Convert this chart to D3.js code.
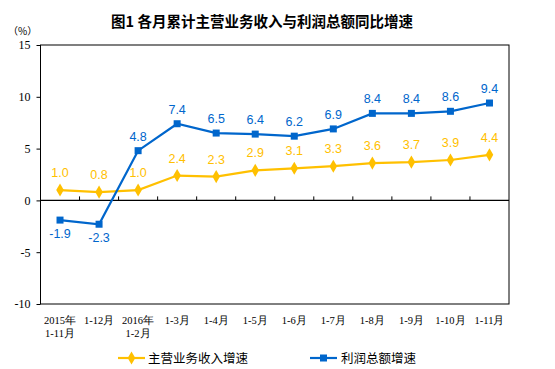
<!DOCTYPE html>
<html><head><meta charset="utf-8">
<script src="https://cdn.jsdelivr.net/npm/d3@7"></script>
<style>body{margin:0;background:#fff}svg{display:block}</style>
</head><body>
<script>
const categories = [["2015年","1-11月"],["1-12月"],["2016年","1-2月"],["1-3月"],["1-4月"],["1-5月"],["1-6月"],["1-7月"],["1-8月"],["1-9月"],["1-10月"],["1-11月"]];
const revenue = [1.0,0.8,1.0,2.4,2.3,2.9,3.1,3.3,3.6,3.7,3.9,4.4];
const profit = [-1.9,-2.3,4.8,7.4,6.5,6.4,6.2,6.9,8.4,8.4,8.6,9.4];
const yTicks = [15,10,5,0,-5,-10];
const seriesNames = ["主营业务收入增速","利润总额增速"];
const title = "图1  各月累计主营业务收入与利润总额同比增速";

const W=555,H=369;
const svg=d3.select("body").append("svg").attr("width",W).attr("height",H);
const L=40.5,R=509,T=45,B=304;
const x=d3.scaleBand().domain(d3.range(categories.length)).range([L,R]);
const y=d3.scaleLinear().domain([-10,15]).range([B,T]);
const yellow="#FFC000", blue="#0066CC";
const serif="'Liberation Serif','Times New Roman',serif";
const cjk="'Noto Sans CJK SC',sans-serif";

svg.append("text").attr("x",262).attr("y",27).attr("text-anchor","middle")
  .attr("font-family",cjk).attr("font-size",14.5).attr("font-weight","bold").attr("fill","#000").text(title);
svg.append("text").attr("x",8).attr("y",35).attr("font-family",cjk).attr("font-size",10).text("（%）");

// frame
svg.append("rect").attr("x",L).attr("y",T).attr("width",R-L).attr("height",B-T)
  .attr("fill","none").attr("stroke","#000").attr("stroke-width",1);

// y axis
const yAxis=d3.axisLeft(y).tickValues(yTicks).tickSize(4).tickPadding(6).tickFormat(d=>String(d));
const ga=svg.append("g").attr("transform",`translate(${L},0)`).call(yAxis);
ga.select(".domain").remove();
ga.selectAll("text").attr("font-family",serif).attr("font-size",12).attr("fill","#000");
ga.selectAll("line").attr("stroke","#000");

// zero line with category ticks
svg.append("line").attr("x1",L).attr("x2",R).attr("y1",y(0)).attr("y2",y(0)).attr("stroke","#000").attr("stroke-width",1.3);
const bounds=d3.range(1,categories.length).map(i=>x(i));
svg.selectAll(".ct").data(bounds).join("line").attr("x1",d=>d).attr("x2",d=>d)
  .attr("y1",y(0)).attr("y2",y(0)-4).attr("stroke","#000");

// x labels
const xl=svg.append("g");
categories.forEach((c,i)=>{
  const t=xl.append("text").attr("x",x(i)+x.bandwidth()/2).attr("y",324).attr("text-anchor","middle")
    .attr("font-family",serif).attr("font-size",10.5).attr("fill","#000");
  c.forEach((s,j)=>t.append("tspan").attr("x",x(i)+x.bandwidth()/2).attr("dy",j?13:0).text(s));
});

const cx=i=>x(i)+x.bandwidth()/2;
const line=d3.line().x((d,i)=>cx(i)).y(d=>y(d));

svg.append("path").datum(revenue).attr("d",line).attr("fill","none").attr("stroke",yellow).attr("stroke-width",2.2);
svg.append("path").datum(profit).attr("d",line).attr("fill","none").attr("stroke",blue).attr("stroke-width",2.2);

const diamond=d3.symbol().type(d3.symbolDiamond).size(50);
svg.selectAll(".rm").data(revenue).join("path").attr("d",diamond)
  .attr("transform",(d,i)=>`translate(${cx(i)},${y(d)})`).attr("fill",yellow);
svg.selectAll(".pm").data(profit).join("rect").attr("x",(d,i)=>cx(i)-3.5).attr("y",d=>y(d)-3.5)
  .attr("width",7).attr("height",7).attr("fill",blue);

const lblFont="'Liberation Sans',Arial,sans-serif";
svg.selectAll(".rl").data(revenue).join("text").attr("x",(d,i)=>cx(i)).attr("y",d=>y(d)-13)
  .attr("text-anchor","middle").attr("font-family",lblFont).attr("font-size",12.5).attr("fill",yellow)
  .text(d=>d.toFixed(1));
svg.selectAll(".pl").data(profit).join("text").attr("x",(d,i)=>cx(i)).attr("y",d=>d<0?y(d)+18:y(d)-10)
  .attr("text-anchor","middle").attr("font-family",lblFont).attr("font-size",12.5).attr("fill",blue)
  .text(d=>d.toFixed(1));

// legend
const lg=svg.append("g");
lg.append("line").attr("x1",118).attr("x2",145).attr("y1",358).attr("y2",358).attr("stroke",yellow).attr("stroke-width",2.2);
lg.append("path").attr("d",diamond).attr("transform","translate(131.5,358)").attr("fill",yellow);
lg.append("text").attr("x",148).attr("y",363).attr("font-family",cjk).attr("font-size",12.5).text(seriesNames[0]);
lg.append("line").attr("x1",310).attr("x2",337).attr("y1",358).attr("y2",358).attr("stroke",blue).attr("stroke-width",2.2);
lg.append("rect").attr("x",320).attr("y",354.5).attr("width",7).attr("height",7).attr("fill",blue);
lg.append("text").attr("x",341).attr("y",363).attr("font-family",cjk).attr("font-size",12.5).text(seriesNames[1]);
</script>
</body></html>
